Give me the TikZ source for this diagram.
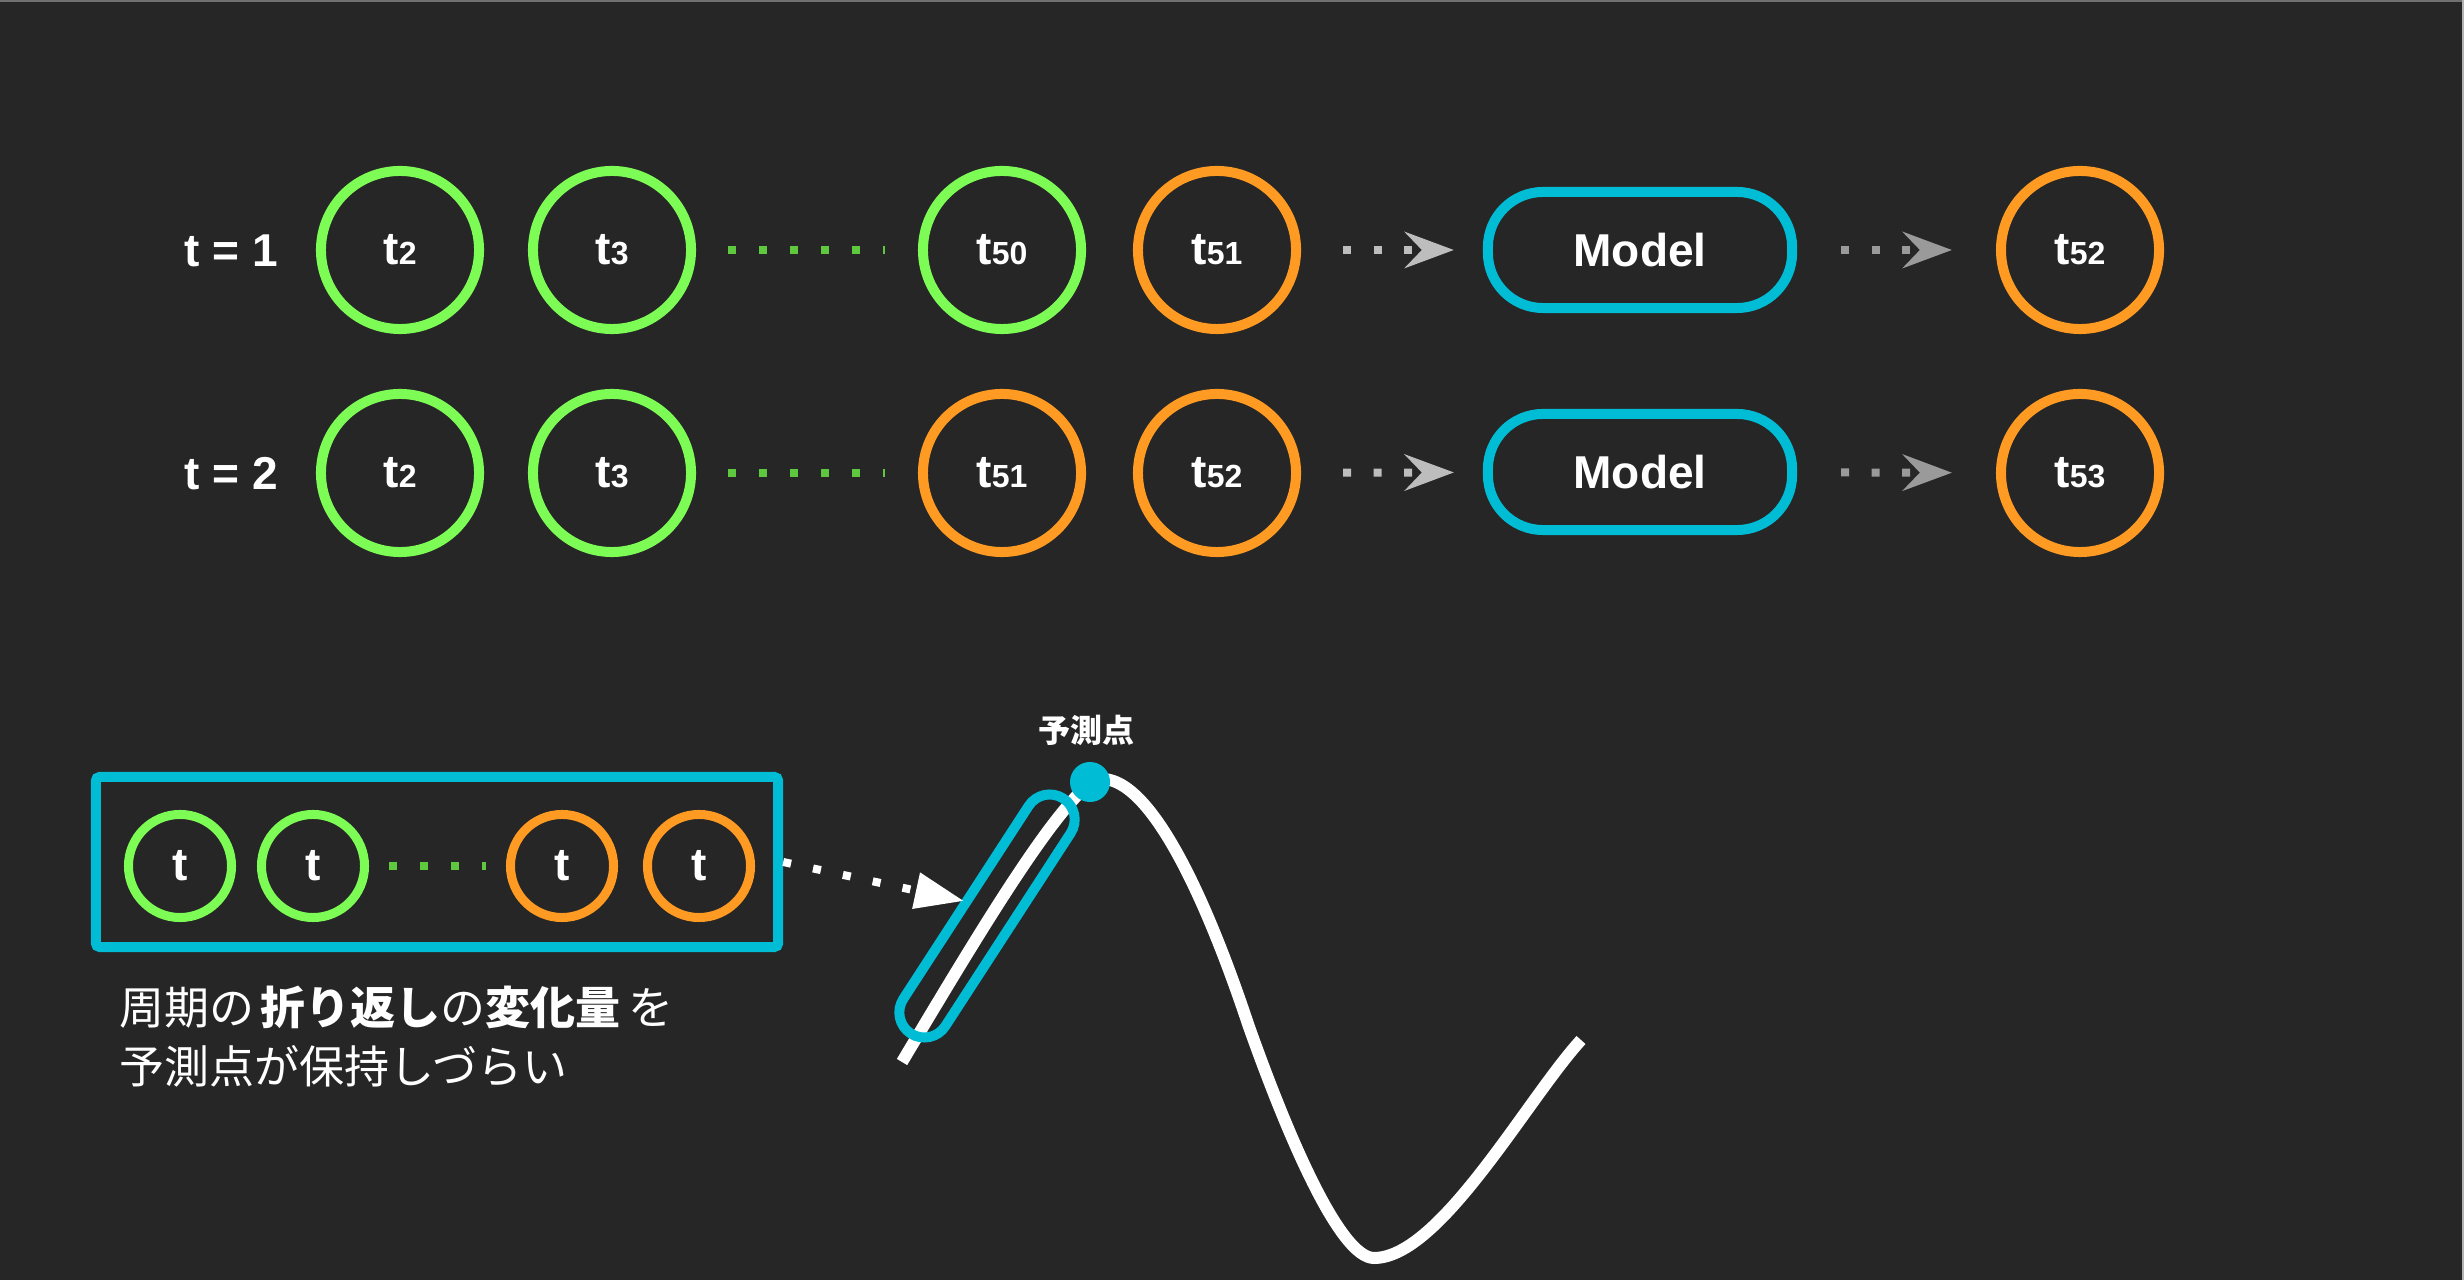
\documentclass[tikz,border=0pt]{standalone}
\usepackage{fontspec}
\setmainfont{Liberation Sans}
\newfontfamily\jpfont{Noto Sans CJK JP}
\usetikzlibrary{arrows.meta,calc}
\definecolor{bg}{HTML}{262626}
\definecolor{cgreen}{HTML}{7CFC55}
\definecolor{cdot}{HTML}{5EC83E}
\definecolor{corange}{HTML}{FF9A22}
\definecolor{ccyan}{HTML}{00BCD4}
\definecolor{garrowA}{HTML}{BDBDBD}
\definecolor{garrowB}{HTML}{9A9A9A}
\definecolor{frameA}{HTML}{707070}
\newcommand\tsub[1]{t{\fontsize{9.1pt}{10pt}\selectfont #1}}
\begin{document}
\begin{tikzpicture}[x=0.01cm,y=-0.01cm,
  mainfont/.style={font=\fontsize{13.1pt}{15pt}\selectfont\bfseries},
  tnode/.style={circle, draw=#1, line width=0.1cm, minimum size=1.58cm, inner sep=0pt, text=white, mainfont},
  snode/.style={circle, draw=#1, line width=0.09cm, minimum size=1.03cm, inner sep=0pt, text=white, mainfont},
  modelbox/.style={draw=ccyan, line width=0.1cm, rounded corners=0.55cm, minimum width=3.04cm, minimum height=1.16cm, inner sep=0pt, text=white, mainfont},
  rowlbl/.style={text=white, mainfont, inner sep=0pt},
  gdots/.style={draw=cdot, line width=0.08cm, dash pattern=on 0.08cm off 0.23cm},
  garrow/.style={draw=#1, line width=0.08cm, dash pattern=on 0.08cm off 0.225cm, -{Stealth[length=0.49cm,width=0.36cm,inset=0.17cm,fill=#1]}},
  warrow/.style={draw=white, line width=0.08cm, dash pattern=on 0.08cm off 0.225cm, -{Triangle[length=0.49cm,width=0.35cm,fill=white]}},
  jptext/.style={anchor=west, inner sep=0pt, text=white, font=\jpfont\fontsize{12.8pt}{15pt}\selectfont}
]
\useasboundingbox (0,0) rectangle (2464,1280);
\fill[bg] (0,0) rectangle (2464,1280);
\draw[frameA, line width=0.02cm] (0,1) -- (2464,1);
\draw[gray!60, line width=0.02cm] (2463,0) -- (2463,1280);

% row 1
\node[rowlbl] (l1) at (231,251) {t = 1};
\node[tnode=cgreen] (a2) at (400,250) {\tsub{2}};
\node[tnode=cgreen] (a3) at (612,250) {\tsub{3}};
\node[tnode=cgreen] (a50) at (1002,250) {\tsub{50}};
\node[tnode=corange] (a51) at (1217,250) {\tsub{51}};
\node[modelbox] (m1) at (1640,250) {Model};
\node[tnode=corange] (a52) at (2080,250) {\tsub{52}};
\draw[gdots, shorten <=0.32cm, shorten >=0.33cm] (a3) -- (a50);
\draw[garrow=garrowA, shorten <=0.42cm, shorten >=0.29cm] (a51) -- (m1);
\draw[garrow=garrowB, shorten <=0.44cm, shorten >=0.44cm] (m1) -- (a52);

% row 2
\node[rowlbl] (l2) at (231,474) {t = 2};
\node[tnode=cgreen] (b2) at (400,473) {\tsub{2}};
\node[tnode=cgreen] (b3) at (612,473) {\tsub{3}};
\node[tnode=corange] (b51) at (1002,473) {\tsub{51}};
\node[tnode=corange] (b52) at (1217,473) {\tsub{52}};
\node[modelbox] (m2) at (1640,472) {Model};
\node[tnode=corange] (b53) at (2080,473) {\tsub{53}};
\draw[gdots, shorten <=0.32cm, shorten >=0.33cm] (b3) -- (b51);
\draw[garrow=garrowA, shorten <=0.42cm, shorten >=0.29cm] (b52) -- (m2);
\draw[garrow=garrowB, shorten <=0.44cm, shorten >=0.44cm] (m2) -- (b53);

% bottom box
\node[draw=ccyan, line width=0.1cm, rounded corners=0.04cm, minimum width=6.82cm, minimum height=1.70cm, inner sep=0pt] (box) at (437,862) {};
\node[snode=cgreen] (c1) at (180,866) {t};
\node[snode=cgreen] (c2) at (313,866) {t};
\node[snode=corange] (c3) at (562,866) {t};
\node[snode=corange] (c4) at (699,866) {t};
\draw[gdots, shorten <=0.2cm, shorten >=0.2cm] (c2) -- (c3);

% text
\node[jptext] (note1) at (119,1007) {周期の\hspace{0.06cm}{\bfseries 折り返し}の{\bfseries 変化量}\hspace{0.08cm}を};
\node[jptext] (note2) at (119,1066) {予測点が保持しづらい};

% curve
\draw[white, line width=0.12cm]
  (902,1062) .. controls (975,940) and (1070,779) .. (1102,779)
  .. controls (1162,779) and (1225,955) .. (1248,1024)
  .. controls (1288,1137) and (1340,1258) .. (1374,1258)
  .. controls (1440,1258) and (1527,1099) .. (1581,1040);

% loop
\node[draw=ccyan, line width=0.1cm, rounded corners=0.25cm, minimum width=2.80cm, minimum height=0.50cm, inner sep=0pt, rotate=57] (loop) at (987,916) {};

% white arrow
\coordinate (wtip) at (964,901);
\draw[warrow] (box.east) -- (wtip);

% prediction point
\node[circle, fill=ccyan, minimum size=0.4cm, inner sep=0pt] (pred) at (1090,782) {};
\node[text=white, inner sep=0pt, font=\jpfont\fontsize{9.1pt}{10pt}\selectfont\bfseries] (predlbl) at (1086,730) {予測点};
\end{tikzpicture}
\end{document}
